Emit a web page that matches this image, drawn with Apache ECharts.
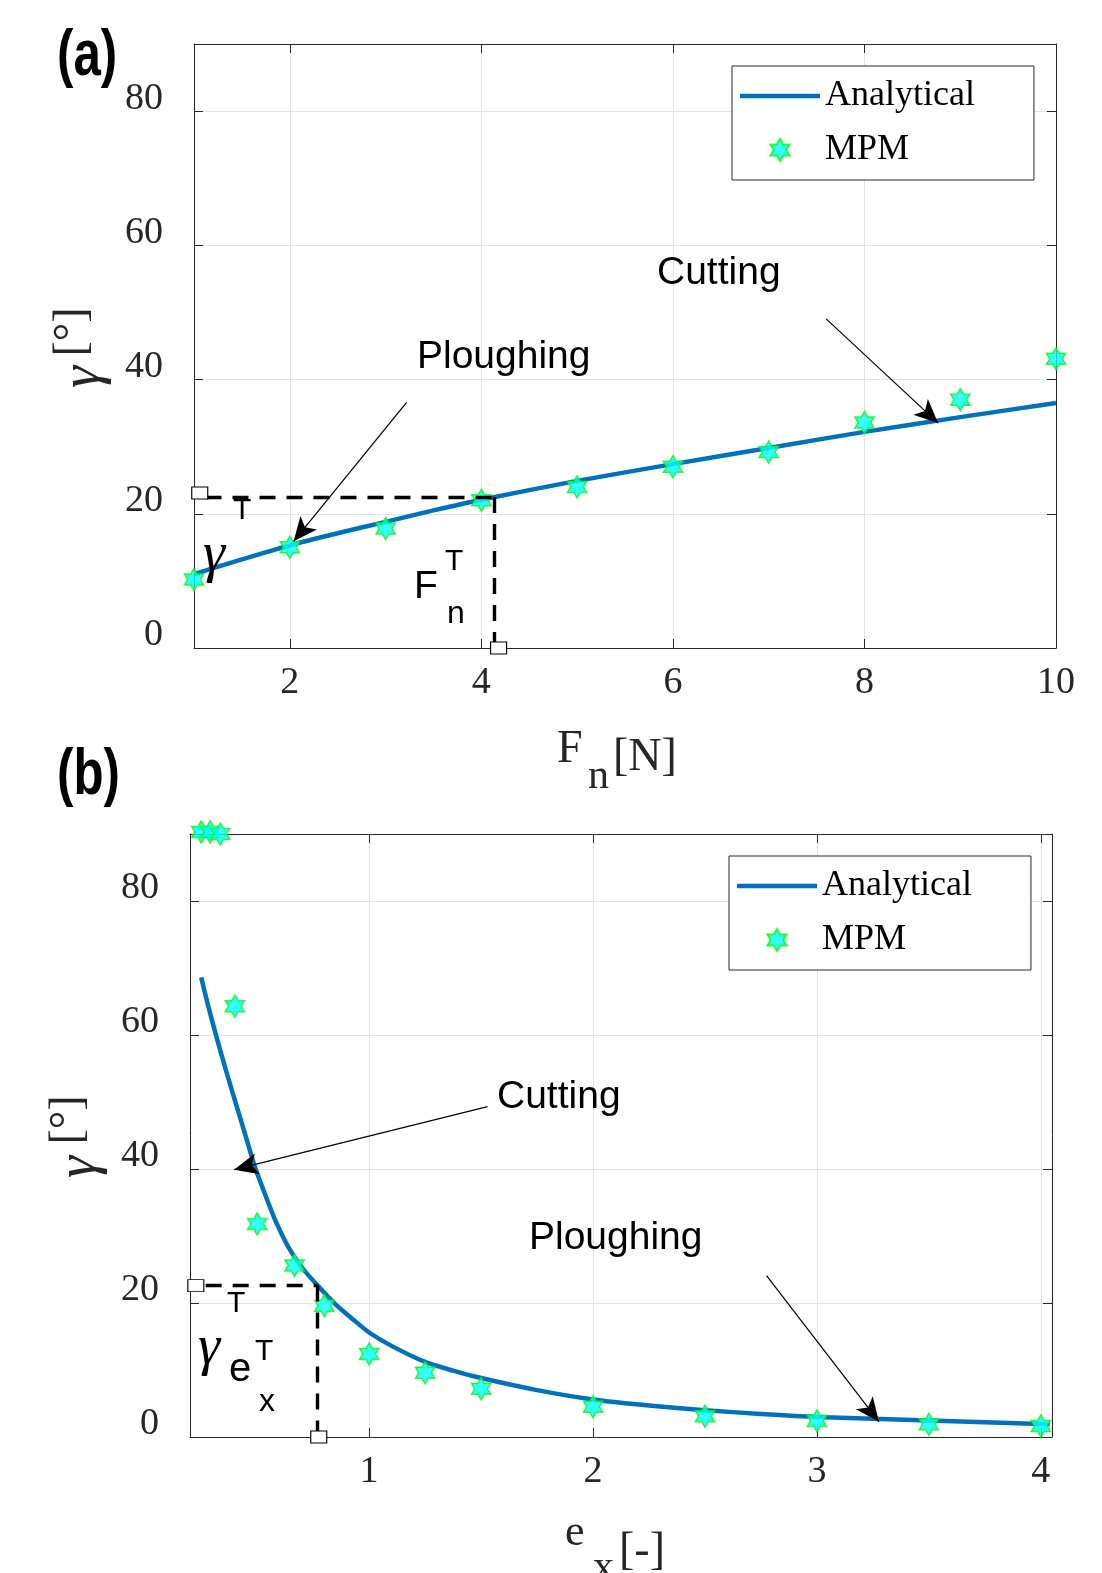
<!DOCTYPE html>
<html>
<head>
<meta charset="utf-8">
<title>gamma vs Fn and ex</title>
<script src="https://cdn.jsdelivr.net/npm/echarts@6/dist/echarts.min.js"></script>
<style>
html, body { margin: 0; padding: 0; background: #fff; }
#chart { width: 1102px; height: 1573px; }
</style>
</head>
<body>
<div id="chart"></div>
<script>
// panel (a): gamma vs normal force
const fnLine = [1, 1.5, 2, 2.5, 3, 3.5, 4, 5, 6, 7, 8, 9, 10]
const gammaLineA = [11.0, 13.2, 15.3, 17.1, 18.8, 20.5, 22.1, 24.9, 27.4, 29.8, 32.2, 34.4, 36.5]
const fnMPM = [1, 2, 3, 4, 5, 6, 7, 8, 9, 10]
const gammaMPMA = [10.2, 15.0, 17.8, 22.0, 24.0, 27.0, 29.2, 33.6, 37.0, 43.1]

// panel (b): gamma vs eccentricity
const exLine = [0.25, 0.28, 0.32, 0.36, 0.39, 0.43, 0.46, 0.49, 0.54, 0.58, 0.64, 0.70, 0.77, 0.85, 0.93,
    1.0, 1.1, 1.25, 1.375, 1.5, 1.75, 2.0, 2.25, 2.5, 2.75, 3.0, 3.5, 4.0, 4.04]
const gammaLineB = [68.6, 64.5, 59.5, 54.8, 51.4, 47.0, 43.6, 40.3, 35.8, 32.4, 28.3, 25.3, 22.6, 19.8, 17.5,
    15.6, 13.6, 11.2, 9.9, 8.8, 7.0, 5.6, 4.7, 4.0, 3.45, 3.0, 2.45, 1.95, 1.9]
const exMPM = [0.25, 0.29, 0.335, 0.4, 0.5, 0.667, 0.8, 1.0, 1.25, 1.5, 2.0, 2.5, 3.0, 3.5, 4.0]
const gammaMPMB = [90.3, 90.3, 90.0, 64.3, 31.8, 25.6, 19.6, 12.4, 9.6, 7.2, 4.5, 3.1, 2.4, 1.9, 1.65]

// annotation helpers (data coords)
const arrowsA = [[[3.22, 36.6], [2.04, 15.9]], [[7.60, 49.05], [8.77, 33.5]]]
const arrowsB = [[[1.529, 49.3], [0.397, 39.9]], [[2.775, 24.1], [3.277, 2.29]]]
const dashA = [[[1.12, 22.5], [4.14, 22.5]], [[4.14, 22.5], [4.14, 0]]]
const dashB = [[[0.27, 22.6], [0.77, 22.6]], [[0.77, 22.6], [0.77, 0]]]
const boxesA = [[1.06, 23.1], [4.18, 0]]
const boxesB = [[0.226, 22.6], [0.775, 0]]

const hexagram = 'path://M0,-50L14.43,-25L43.3,-25L28.87,0L43.3,25L14.43,25L0,50L-14.43,25L-43.3,25L-28.87,0L-43.3,-25L-14.43,-25Z'
const legendLine = 'path://M0,0H80V4.5H0Z'
const axisColor = '#262626'
const gridColor = '#e4e4e4'
const lineBlue = '#0072BD'

const zip = (xs, ys) => xs.map((x, i) => [x, ys[i]])
const segs = list => list.map(s => [{coord: s[0]}, {coord: s[1]}])

function xAxisFor(grid, min, max, split, primary, showMax) {
    return {
        type: 'value', gridIndex: grid, min: min, max: max, splitNumber: split,
        position: primary ? 'bottom' : 'top',
        axisLine: {onZero: false, lineStyle: {color: axisColor, width: 1}},
        axisTick: {inside: true, length: 9, lineStyle: {color: axisColor}},
        axisLabel: primary ? {
            fontFamily: 'Liberation Serif', fontSize: 38, color: axisColor,
            margin: 16, showMinLabel: false, showMaxLabel: showMax
        } : {show: false},
        splitLine: {show: primary, lineStyle: {color: gridColor, width: 1}}
    }
}

function yAxisFor(grid, primary) {
    return {
        type: 'value', gridIndex: grid, min: 0, max: 90, interval: 20,
        position: primary ? 'left' : 'right',
        axisLine: {onZero: false, lineStyle: {color: axisColor, width: 1}},
        axisTick: {inside: true, length: 9, lineStyle: {color: axisColor}},
        axisLabel: primary ? {
            fontFamily: 'Liberation Serif', fontSize: 38, color: axisColor,
            margin: 31, showMaxLabel: false, verticalAlign: 'bottom', lineHeight: 25
        } : {show: false},
        splitLine: {show: primary, lineStyle: {color: gridColor, width: 1}}
    }
}

function legendAt(left, top) {
    return {
        left: left, top: top, orient: 'vertical',
        data: [{name: 'Analytical', icon: legendLine}, {name: 'MPM'}],
        itemWidth: 80, itemHeight: 22, itemGap: 18, symbolKeepAspect: true,
        padding: [12, 59, 12, 8],
        borderColor: axisColor, borderWidth: 1, backgroundColor: '#fff',
        textStyle: {fontFamily: 'Liberation Serif', fontSize: 36, color: '#000'}
    }
}

function lineSeries(xi, data, arrows) {
    return {
        name: 'Analytical', type: 'line', xAxisIndex: xi, yAxisIndex: xi,
        data: data, symbol: 'none', showSymbol: false, smooth: 0.25,
        lineStyle: {color: lineBlue, width: 4.5, join: 'round'}, itemStyle: {color: lineBlue},
        z: 3,
        markLine: {
            silent: true, symbol: ['none', 'arrow'], symbolSize: [16, 24],
            label: {show: false},
            lineStyle: {color: '#000', width: 1.2, type: 'solid'},
            data: segs(arrows)
        }
    }
}

function mpmSeries(xi, data, dashes, boxes) {
    return {
        name: 'MPM', type: 'scatter', xAxisIndex: xi, yAxisIndex: xi,
        data: data, symbol: hexagram, symbolSize: 22, symbolKeepAspect: true, clip: false,
        itemStyle: {color: '#00FFFF', borderColor: '#00FF00', borderWidth: 1.5},
        z: 4,
        markLine: {
            silent: true, symbol: ['none', 'none'], label: {show: false},
            lineStyle: {color: '#000', width: 3.4, type: [16, 11]},
            data: segs(dashes)
        },
        markPoint: {
            silent: true, symbol: 'rect', symbolSize: [16, 12], label: {show: false},
            itemStyle: {color: '#fff', borderColor: '#000', borderWidth: 1},
            data: boxes.map(c => ({coord: c}))
        }
    }
}

function txt(x, y, text, font, fill, extra) {
    return Object.assign({
        type: 'text', x: x, y: y, z: 100, silent: true,
        style: {text: text, font: font, fill: fill || '#000', align: 'left', verticalAlign: 'middle',
            textAlign: 'left', textVerticalAlign: 'middle'}
    }, extra || {})
}

function rot(x, y, text, font) {
    return {
        type: 'text', x: x, y: y, z: 100, silent: true, rotation: Math.PI / 2,
        style: {text: text, font: font, fill: axisColor, align: 'center', verticalAlign: 'middle',
            textAlign: 'center', textVerticalAlign: 'middle'}
    }
}

const sans = '"Liberation Sans"'
const serif = '"Liberation Serif"'

const chart = echarts.init(document.getElementById('chart'), null, {renderer: 'canvas'})

const option = {
    animation: false,
    backgroundColor: '#fff',
    grid: [
        {left: 194, top: 44, width: 862, height: 604},
        {left: 190, top: 834, width: 862, height: 603}
    ],
    xAxis: [
        xAxisFor(0, 1, 10, 5, true, true),
        xAxisFor(1, 0.2, 4.05, 4, true, false),
        xAxisFor(0, 1, 10, 5, false, false),
        xAxisFor(1, 0.2, 4.05, 4, false, false)
    ],
    yAxis: [yAxisFor(0, true), yAxisFor(1, true), yAxisFor(0, false), yAxisFor(1, false)],
    legend: [legendAt(732, 66), legendAt(729, 856)],
    series: [
        lineSeries(0, zip(fnLine, gammaLineA), arrowsA),
        mpmSeries(0, zip(fnMPM, gammaMPMA), dashA, boxesA),
        lineSeries(1, zip(exLine, gammaLineB), arrowsB),
        mpmSeries(1, zip(exMPM, gammaMPMB), dashB, boxesB)
    ],
    graphic: [
        // panel labels
        txt(57, 57, '(a)', 'bold 64px ' + sans, '#000', {scaleX: 0.77}),
        txt(57, 776, '(b)', 'bold 64px ' + sans, '#000', {scaleX: 0.77}),
        // panel (a) annotations
        txt(657, 273, 'Cutting', '39px ' + sans),
        txt(417, 357, 'Ploughing', '39px ' + sans),
        txt(233, 511, 'T', '30px ' + sans),
        txt(203, 556, 'γ', 'italic 56px ' + serif),
        txt(414, 587, 'F', '39px ' + sans),
        txt(445, 562, 'T', '30px ' + sans),
        txt(447, 614, 'n', '32px ' + sans),
        // panel (b) annotations
        txt(497, 1097, 'Cutting', '39px ' + sans),
        txt(529, 1238, 'Ploughing', '39px ' + sans),
        txt(227, 1304, 'T', '30px ' + sans),
        txt(198, 1349, 'γ', 'italic 56px ' + serif),
        txt(229, 1370, 'e', '40px ' + sans),
        txt(255, 1352, 'T', '30px ' + sans),
        txt(259, 1402, 'x', '32px ' + sans),
        // axis titles
        txt(557, 750, 'F', '46px ' + serif, axisColor),
        txt(588, 777, 'n', '42px ' + serif, axisColor),
        txt(613, 758, '[N]', '46px ' + serif, axisColor),
        txt(565, 1533, 'e', '44px ' + serif, axisColor),
        txt(593, 1568, 'x', '42px ' + serif, axisColor),
        txt(619, 1552, '[-]', '46px ' + serif, axisColor),
        rot(73, 332, '[°]', '46px ' + serif),
        rot(84, 377, 'γ', 'italic 56px ' + serif),
        rot(69, 1120, '[°]', '46px ' + serif),
        rot(80, 1167, 'γ', 'italic 56px ' + serif)
    ]
}

chart.setOption(option)
</script>
</body>
</html>
